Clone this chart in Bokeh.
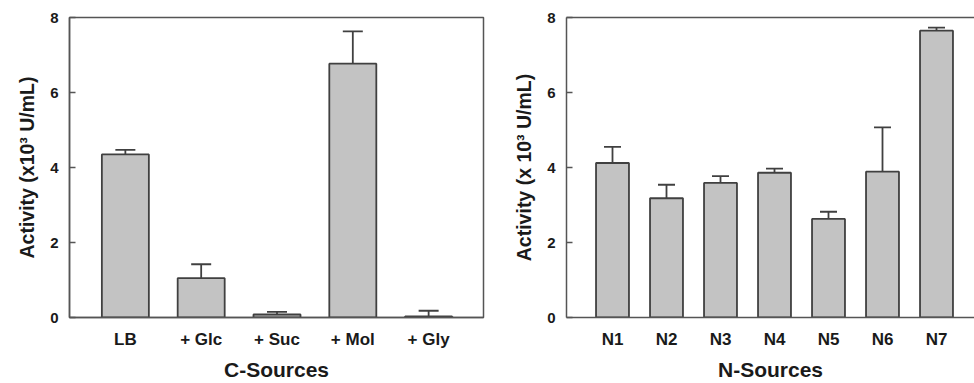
import numpy as np
from bokeh.plotting import figure
from bokeh.layouts import row
from bokeh.models import (ColumnDataSource, Range1d, FixedTicker, Whisker, TeeHead,
                          LinearAxis)
from bokeh.embed import file_html
from bokeh.resources import INLINE

# ---- data ----
c_sources = ["LB", "+ Glc", "+ Suc", "+ Mol", "+ Gly"]
c_activity = [4.35, 1.05, 0.08, 6.77, 0.03]
c_error = [0.12, 0.37, 0.07, 0.86, 0.15]

n_sources = ["N1", "N2", "N3", "N4", "N5", "N6", "N7"]
n_activity = [4.12, 3.18, 3.59, 3.86, 2.63, 3.89, 7.65]
n_error = [0.43, 0.36, 0.18, 0.11, 0.19, 1.18, 0.08]

y_ticks = [0, 2, 4, 6, 8]

FONT = "Liberation Sans"
TXT = "#1a1a1a"
AX = "#555555"
BAR_FILL = "#c3c3c3"
BAR_LINE = "#404040"


def make_panel(cats, vals, errs, ylabel, xlabel, width, mb_left, mb_right,
               pad_left, pad_right, bar_w, cap, outline):
    pos = list(range(1, len(cats) + 1))
    src = ColumnDataSource(dict(x=pos, val=vals,
                                upper=[v + e for v, e in zip(vals, errs)]))
    p = figure(width=width, height=383, output_backend="svg", toolbar_location=None,
               x_range=Range1d(1 - pad_left, len(cats) + pad_right),
               y_range=Range1d(0, 8),
               min_border_left=mb_left, min_border_right=mb_right,
               min_border_top=17, min_border_bottom=66)
    p.grid.visible = False
    p.background_fill_color = "white"
    p.border_fill_color = "white"

    ya = p.left[0]
    xa = p.below[0]

    if outline:
        p.outline_line_color = AX
        p.outline_line_width = 1.5
        p.outline_line_alpha = 1
    else:
        p.outline_line_color = None
        top = LinearAxis(ticker=FixedTicker(ticks=[]))
        top.axis_line_color = AX
        top.axis_line_width = 1.5
        top.major_label_text_font_size = "0px"
        top.major_tick_line_color = None
        top.minor_tick_line_color = None
        top.major_tick_out = 0
        top.major_tick_in = 0
        top.major_label_standoff = 0
        p.add_layout(top, "above")

    p.vbar(x="x", top="val", bottom=0, width=bar_w, source=src,
           fill_color=BAR_FILL, line_color=BAR_LINE, line_width=1.8)
    w = Whisker(source=src, base="x", lower="val", upper="upper", dimension="height",
                lower_head=None,
                upper_head=TeeHead(size=cap, line_color=BAR_LINE, line_width=1.8),
                line_color=BAR_LINE, line_width=1.8)
    p.add_layout(w)

    # y axis
    ya.ticker = FixedTicker(ticks=y_ticks)
    ya.major_tick_in = 6
    ya.major_tick_out = 0
    ya.minor_tick_line_color = None
    ya.major_tick_line_color = AX
    ya.major_tick_line_width = 1.5
    ya.axis_line_color = AX
    ya.axis_line_width = 1.5
    ya.major_label_text_font = FONT
    ya.major_label_text_font_style = "bold"
    ya.major_label_text_font_size = "15px"
    ya.major_label_text_color = TXT
    ya.major_label_standoff = 11
    ya.axis_label = ylabel
    ya.axis_label_text_font = FONT
    ya.axis_label_text_font_style = "bold"
    ya.axis_label_text_font_size = "19.5px"
    ya.axis_label_text_color = TXT
    ya.axis_label_standoff = 9

    # x axis
    xa.ticker = FixedTicker(ticks=pos)
    xa.major_label_overrides = {i: c for i, c in zip(pos, cats)}
    xa.major_tick_line_color = None
    xa.major_tick_out = 0
    xa.major_tick_in = 0
    xa.minor_tick_line_color = None
    xa.axis_line_color = AX
    xa.axis_line_width = 1.5
    xa.major_label_text_font = FONT
    xa.major_label_text_font_style = "bold"
    xa.major_label_text_font_size = "17px"
    xa.major_label_text_color = TXT
    xa.major_label_standoff = 12
    xa.axis_label = xlabel
    xa.axis_label_text_font = FONT
    xa.axis_label_text_font_style = "bold"
    xa.axis_label_text_font_size = "21px"
    xa.axis_label_text_color = TXT
    xa.axis_label_standoff = 6
    return p


p1 = make_panel(c_sources, c_activity, c_error, "Activity (x10³ U/mL)", "C-Sources",
                width=495, mb_left=69, mb_right=12,
                pad_left=56 / 76, pad_right=55 / 76, bar_w=0.62, cap=20, outline=True)
p2 = make_panel(n_sources, n_activity, n_error, "Activity (x 10³ U/mL)", "N-Sources",
                width=479, mb_left=71, mb_right=0,
                pad_left=46 / 54, pad_right=38 / 54, bar_w=0.61, cap=17, outline=False)

layout = row(p1, p2, spacing=0)
open("out.html", "w").write(file_html(layout, INLINE))
